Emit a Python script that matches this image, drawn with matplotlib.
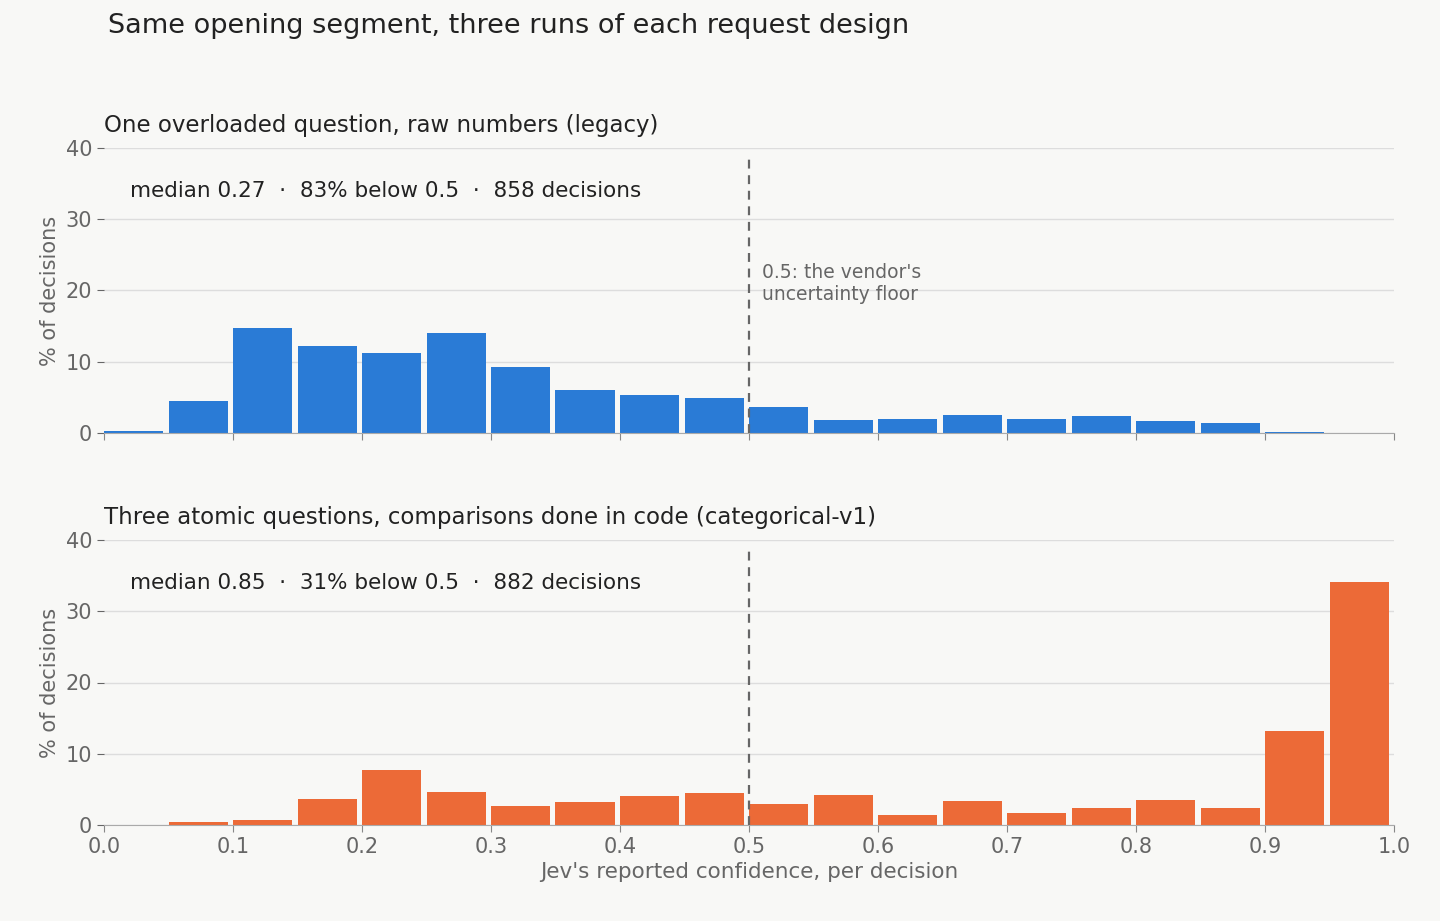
import matplotlib
matplotlib.use("Agg")
import matplotlib.pyplot as plt
import numpy as np

bin_left = [round(0.05*i, 2) for i in range(20)]
legacy = [0.3, 4.5, 14.7, 12.2, 11.2, 14.0, 9.3, 6.0, 5.3, 4.9, 3.6, 1.8, 2.0, 2.5, 2.0, 2.4, 1.7, 1.4, 0.1, 0.0]
categorical = [0.0, 0.4, 0.7, 3.6, 7.7, 4.6, 2.7, 3.2, 4.1, 4.5, 2.9, 4.2, 1.4, 3.4, 1.7, 2.4, 3.5, 2.4, 13.2, 34.1]
titles = ["One overloaded question, raw numbers (legacy)",
          "Three atomic questions, comparisons done in code (categorical-v1)"]
stats = ["median 0.27  ·  83% below 0.5  ·  858 decisions",
         "median 0.85  ·  31% below 0.5  ·  882 decisions"]
colors = ["#2a7bd6", "#ec6a37"]
bg = "#f8f8f6"

fig = plt.figure(figsize=(14.4, 9.21), dpi=100, facecolor=bg)
axes = [fig.add_axes([104/1440, 1-433/921, 1290/1440, 285/921]),
        fig.add_axes([104/1440, 1-825/921, 1290/1440, 285/921])]
for i, (ax, data) in enumerate(zip(axes, [legacy, categorical])):
    ax.set_facecolor(bg)
    ax.bar(bin_left, data, width=0.046, align="edge", color=colors[i], zorder=2)
    ax.set_xlim(0, 1); ax.set_ylim(0, 40)
    ax.set_yticks([0, 10, 20, 30, 40])
    ax.set_xticks(np.arange(0, 1.01, 0.1))
    ax.grid(axis="y", color="#dddddd", lw=1, zorder=0)
    for s in ["top", "right", "left"]:
        ax.spines[s].set_visible(False)
    ax.spines["bottom"].set_color("#aaaaaa")
    ax.tick_params(colors="#666666", labelsize=15, length=5)
    ax.tick_params(axis="x", colors="#888888", labelcolor="#666666")
    ax.set_ylabel("% of decisions", fontsize=15, color="#666666")
    ax.axvline(0.5, ls=(0, (4, 3)), color="#666666", lw=1.6, ymax=0.98, zorder=3)
    ax.text(0, 1.04, titles[i], transform=ax.transAxes, fontsize=16.5, color="#222222", va="bottom")
    ax.text(0.02, 34, stats[i], fontsize=15.5, color="#222222", va="center")
axes[0].tick_params(axis="x", labelbottom=False)
axes[0].text(0.51, 21, "0.5: the vendor's\nuncertainty floor", fontsize=13.5, color="#666666", va="center")
axes[1].set_xticklabels([f"{v:.1f}" for v in np.arange(0, 1.01, 0.1)])
axes[1].set_xlabel("Jev's reported confidence, per decision", fontsize=15.5, color="#666666")
fig.text(108/1440, 1-26/921, "Same opening segment, three runs of each request design",
         fontsize=19.5, color="#222222", va="center")
fig.savefig("out.png", dpi=100, facecolor=bg)
